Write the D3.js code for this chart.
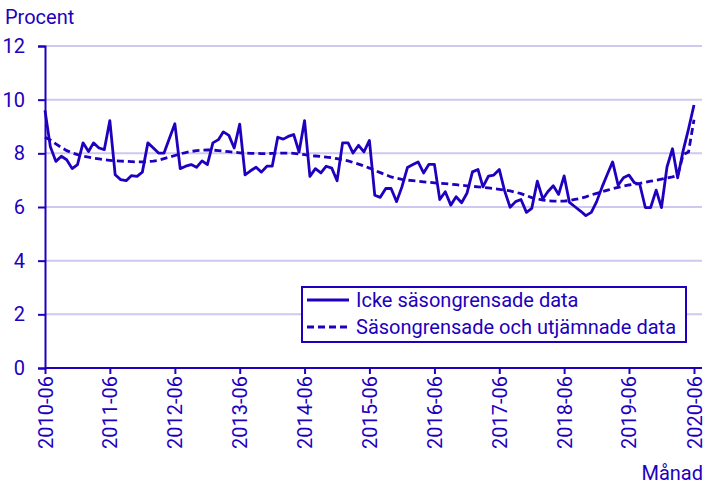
<!DOCTYPE html>
<html>
<head>
<meta charset="utf-8">
<script src="https://cdn.jsdelivr.net/npm/d3@7"></script>
<style>
  body { margin: 0; background: #fff; }
  text { font-family: Roboto, "Noto Sans", sans-serif; fill: #1e00be; }
</style>
</head>
<body>
<div id="chart"></div>
<script>
// monthly values, 2010-06 .. 2020-06
var startMonth = "2010-06";
var tickLabels = ["2010-06", "2011-06", "2012-06", "2013-06", "2014-06", "2015-06",
    "2016-06", "2017-06", "2018-06", "2019-06", "2020-06"];
var yTicks = [0, 2, 4, 6, 8, 10, 12];
var seriesNames = ["Icke säsongrensade data", "Säsongrensade och utjämnade data"];

var rawValues = [9.6, 8.25, 7.7, 7.89, 7.76, 7.43, 7.58, 8.39, 8.07, 8.39, 8.2, 8.14,
    9.22, 7.2, 7.02, 6.98, 7.17, 7.14, 7.3, 8.39, 8.2, 8.01, 8.01, 8.55,
    9.1, 7.43, 7.52, 7.58, 7.48, 7.72, 7.58, 8.39, 8.51, 8.8, 8.67, 8.2,
    9.09, 7.2, 7.35, 7.48, 7.3, 7.52, 7.52, 8.6, 8.53, 8.63, 8.7, 8.05,
    9.22, 7.14, 7.43, 7.27, 7.52, 7.45, 6.98, 8.39, 8.39, 8.01, 8.3, 8.05,
    8.48, 6.44, 6.36, 6.69, 6.69, 6.2, 6.75, 7.47, 7.58, 7.68, 7.27, 7.59,
    7.59, 6.28, 6.57, 6.07, 6.38, 6.16, 6.51, 7.31, 7.4, 6.75, 7.15, 7.19,
    7.4, 6.6, 5.99, 6.2, 6.28, 5.8, 5.95, 6.96, 6.3, 6.57, 6.79, 6.47,
    7.16, 6.17, 6.01, 5.85, 5.68, 5.8, 6.2, 6.75, 7.25, 7.68, 6.81, 7.09,
    7.19, 6.91, 6.84, 5.98, 5.98, 6.63, 5.98, 7.49, 8.17, 7.09, 8.1, 8.9,
    9.8];

var smoothValues = [8.6, 8.5, 8.35, 8.22, 8.1, 8.02, 7.95, 7.9, 7.86, 7.82, 7.79, 7.76,
    7.74, 7.72, 7.71, 7.7, 7.69, 7.68, 7.68, 7.69, 7.71, 7.74, 7.8, 7.86,
    7.92, 7.98, 8.03, 8.07, 8.1, 8.12, 8.13, 8.12, 8.1, 8.08, 8.06, 8.04,
    8.02, 8.01, 8.0, 8.0, 7.99, 7.99, 8.0, 8.0, 8.01, 8.01, 8.0, 7.98,
    7.95, 7.92, 7.9, 7.88, 7.86, 7.84, 7.8, 7.76, 7.72, 7.66, 7.6, 7.53,
    7.45, 7.36, 7.28, 7.2, 7.12, 7.07, 7.03, 7.0, 6.98, 6.96, 6.94, 6.92,
    6.9, 6.88, 6.87, 6.85, 6.83, 6.81, 6.79, 6.77, 6.75, 6.73, 6.71, 6.69,
    6.66, 6.63, 6.6, 6.55, 6.5, 6.42, 6.35, 6.3, 6.26, 6.23, 6.22, 6.22,
    6.22, 6.24, 6.28, 6.32, 6.38, 6.45, 6.51, 6.57, 6.63, 6.68, 6.73, 6.78,
    6.82, 6.85, 6.88, 6.92, 6.96, 7.0, 7.04, 7.08, 7.12, 7.18, 7.95, 8.05,
    9.25];

var svgWidth = 709;
var svgHeight = 489;
var color = "#1e00be";
var gridColor = "#cdc9f0";
var fontSize = "20px";

var margin = { top: 46, right: 15, bottom: 121, left: 45 };
var width = svgWidth - margin.left - margin.right;   // 649
var height = svgHeight - margin.top - margin.bottom; // 322

var parseMonth = d3.timeParse("%Y-%m");
var t0 = parseMonth(startMonth);
var dates = rawValues.map((d, i) => d3.timeMonth.offset(t0, i));

var svg = d3.select("#chart").append("svg")
    .attr("width", svgWidth)
    .attr("height", svgHeight);

var chartGroup = svg.append("g")
    .attr("transform", `translate(${margin.left}, ${margin.top})`);

var xScale = d3.scaleTime()
    .domain([t0, dates[dates.length - 1]])
    .range([0, width]);

var yScale = d3.scaleLinear()
    .domain([0, 12])
    .range([height, 0]);

// gridlines
chartGroup.append("g")
    .selectAll("line")
    .data(yTicks.filter(d => d > 0))
    .enter()
    .append("line")
    .attr("x1", 0)
    .attr("x2", width + 8)
    .attr("y1", d => yScale(d))
    .attr("y2", d => yScale(d))
    .attr("stroke", gridColor)
    .attr("stroke-width", 2);

// y axis
var leftAxis = d3.axisLeft(yScale).tickValues(yTicks).tickSize(7).tickPadding(13);
var yAxis = chartGroup.append("g").call(leftAxis);
yAxis.select(".domain").attr("stroke", color).attr("stroke-width", 2);
yAxis.selectAll(".tick line").attr("stroke", color).attr("stroke-width", 2);
yAxis.selectAll(".tick text").attr("font-size", fontSize).attr("fill", color);

// x axis
var tickDates = tickLabels.map(parseMonth);
var bottomAxis = d3.axisBottom(xScale)
    .tickValues(tickDates)
    .tickFormat(d3.timeFormat("%Y-%m"))
    .tickSize(6)
    .tickSizeOuter(0);
var xAxis = chartGroup.append("g")
    .attr("transform", `translate(0, ${height})`)
    .call(bottomAxis);
xAxis.select(".domain").attr("d", `M0,0H${width + 8}`).attr("stroke", color).attr("stroke-width", 2);
xAxis.selectAll(".tick line").attr("stroke", color).attr("stroke-width", 2);
xAxis.selectAll(".tick text")
    .attr("font-size", fontSize)
    .attr("fill", color)
    .attr("text-anchor", "end")
    .attr("transform", "rotate(-90)")
    .attr("x", -8)
    .attr("y", 0)
    .attr("dy", "0.35em");

// lines
var rawLine = d3.line()
    .x((d, i) => xScale(dates[i]))
    .y(d => yScale(d));

chartGroup.append("path")
    .datum(smoothValues)
    .attr("d", rawLine)
    .attr("fill", "none")
    .attr("stroke", color)
    .attr("stroke-width", 2.8)
    .attr("stroke-dasharray", "7,4");

chartGroup.append("path")
    .datum(rawValues)
    .attr("d", rawLine)
    .attr("fill", "none")
    .attr("stroke", color)
    .attr("stroke-width", 2.8)
    .attr("stroke-linejoin", "round");

// axis titles
svg.append("text")
    .attr("x", 5)
    .attr("y", 24)
    .attr("font-size", fontSize)
    .text("Procent");

svg.append("text")
    .attr("x", 703)
    .attr("y", 480)
    .attr("text-anchor", "end")
    .attr("font-size", fontSize)
    .text("Månad");

// legend
var legend = svg.append("g").attr("transform", "translate(302, 287)");
legend.append("rect")
    .attr("width", 384)
    .attr("height", 55)
    .attr("fill", "#fff")
    .attr("stroke", color)
    .attr("stroke-width", 2);

seriesNames.forEach(function(name, i) {
    var yy = 13 + i * 27;
    legend.append("line")
        .attr("x1", 5)
        .attr("x2", 47)
        .attr("y1", yy)
        .attr("y2", yy)
        .attr("stroke", color)
        .attr("stroke-width", 2.8)
        .attr("stroke-dasharray", i === 1 ? "7,4" : null);
    legend.append("text")
        .attr("x", 54)
        .attr("y", yy)
        .attr("dy", "0.36em")
        .attr("font-size", fontSize)
        .text(name);
});
</script>
</body>
</html>
